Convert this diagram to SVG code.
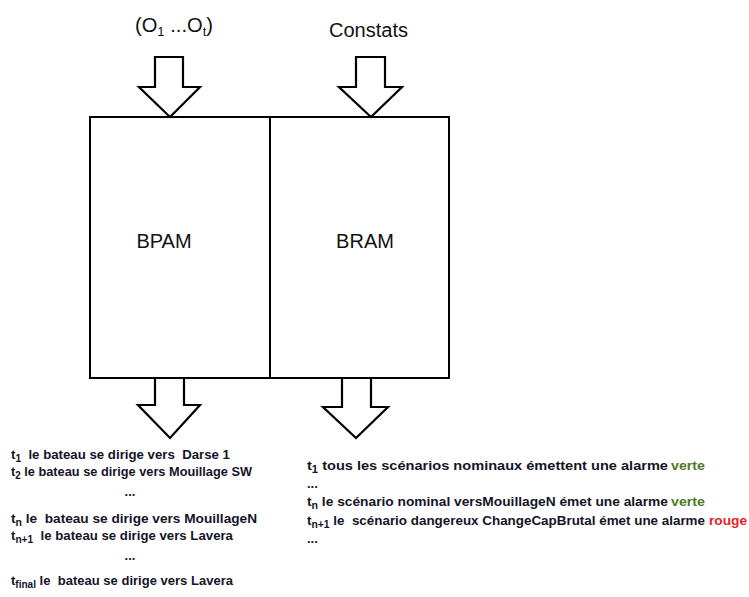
<svg xmlns="http://www.w3.org/2000/svg" width="749" height="597" viewBox="0 0 749 597">
<style>
.box{fill:#fff;stroke:#000;stroke-width:2}
.arr{fill:#fff;stroke:#000;stroke-width:2.2;stroke-linejoin:miter}
.lbl{font-family:"Liberation Sans",Arial,sans-serif;font-size:20px;fill:#111}
.t{font-family:"Liberation Sans",Arial,sans-serif;font-size:13px;font-weight:bold;fill:#141428;white-space:pre}
.sub{font-size:10px}
.g{fill:#4f7a28}
.r{fill:#e0262b}
</style>
<rect width="749" height="597" fill="#fff"/>
<g id="BPAM">
<rect class="box" x="90" y="117" width="180" height="261"/>
<text class="lbl" x="164" y="248" text-anchor="middle">BPAM</text>
</g>
<g id="BRAM">
<rect class="box" x="270" y="117" width="179" height="261"/>
<text class="lbl" x="365" y="248" text-anchor="middle">BRAM</text>
</g>
<g id="input-obs">
<text class="lbl" x="135" y="32" textLength="78" lengthAdjust="spacingAndGlyphs">(O<tspan font-size="13" dy="4">1</tspan><tspan dy="-4"> ...O</tspan><tspan font-size="13" dy="4">t</tspan><tspan dy="-4">)</tspan></text>
</g>
<g id="input-constats">
<text class="lbl" x="329" y="37" textLength="79" lengthAdjust="spacingAndGlyphs">Constats</text>
</g>
<g id="connectors">
<polygon class="arr" points="155,57 183,57 183,87 200,87 170,117 139,87 155,87"/>
<polygon class="arr" points="356,57 385,57 385,87 402,87 371,117 339,87 356,87"/>
<polygon class="arr" points="155,378 184,378 184,405 200,405 170,438 138,405 155,405"/>
<polygon class="arr" points="342,378 371,378 371,407 388,407 356,438 323,407 342,407"/>
</g>
<g id="output-bpam" xml:space="preserve">
<text class="t" x="11" y="459" textLength="219" lengthAdjust="spacingAndGlyphs">t<tspan class="sub" dy="3">1</tspan><tspan dy="-3">  le bateau se dirige vers  Darse 1</tspan></text>
<text class="t" x="11" y="476" textLength="241" lengthAdjust="spacingAndGlyphs">t<tspan class="sub" dy="3">2</tspan><tspan dy="-3"> le bateau se dirige vers Mouillage SW</tspan></text>
<text class="t" x="130" y="496" text-anchor="middle">...</text>
<text class="t" x="11" y="523" textLength="246" lengthAdjust="spacingAndGlyphs">t<tspan class="sub" dy="3">n</tspan><tspan dy="-3"> le  bateau se dirige vers MouillageN</tspan></text>
<text class="t" x="11" y="540" textLength="222" lengthAdjust="spacingAndGlyphs">t<tspan class="sub" dy="3">n+1</tspan><tspan dy="-3">  le bateau se dirige vers Lavera</tspan></text>
<text class="t" x="130" y="560" text-anchor="middle">...</text>
<text class="t" x="11" y="585" textLength="222" lengthAdjust="spacingAndGlyphs">t<tspan class="sub" dy="3">final</tspan><tspan dy="-3"> le  bateau se dirige vers Lavera</tspan></text>
</g>
<g id="output-bram" xml:space="preserve">
<text class="t" x="307" y="470" font-size="14.5" textLength="361" lengthAdjust="spacingAndGlyphs">t<tspan class="sub" dy="3">1</tspan><tspan dy="-3"> tous les scénarios nominaux émettent une alarme</tspan></text>
<text class="t g" x="671" y="470" font-size="13.5" textLength="34" lengthAdjust="spacingAndGlyphs">verte</text>
<text class="t" x="307" y="488">...</text>
<text class="t" x="307" y="506" font-size="13.3" textLength="361" lengthAdjust="spacingAndGlyphs">t<tspan class="sub" dy="3">n</tspan><tspan dy="-3"> le scénario nominal versMouillageN émet une alarme</tspan></text>
<text class="t g" x="671" y="506" font-size="13.5" textLength="34" lengthAdjust="spacingAndGlyphs">verte</text>
<text class="t" x="307" y="525" textLength="398" lengthAdjust="spacingAndGlyphs">t<tspan class="sub" dy="3">n+1</tspan><tspan dy="-3"> le  scénario dangereux ChangeCapBrutal émet une alarme</tspan></text>
<text class="t r" x="709" y="525" textLength="38" lengthAdjust="spacingAndGlyphs">rouge</text>
<text class="t" x="307" y="543">...</text>
</g>
</svg>
